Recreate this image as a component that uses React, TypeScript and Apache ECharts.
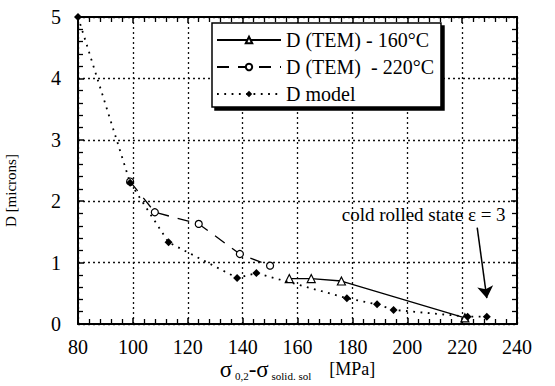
import React, { useEffect, useRef } from "react";
import * as echarts from "echarts";

// stress difference (MPa) and D (microns)
const tem160X = [157, 165, 176, 221];
const tem160Y = [0.74, 0.74, 0.7, 0.1];
const tem220X = [99, 108, 124, 139, 150];
const tem220Y = [2.32, 1.82, 1.63, 1.14, 0.95];
const modelX = [80, 99, 113, 138, 145, 178, 189, 195, 222, 229];
const modelY = [5, 2.3, 1.33, 0.75, 0.83, 0.42, 0.32, 0.23, 0.12, 0.12];
const seriesNames = ["D (TEM) - 160°C", "D (TEM)  - 220°C", "D model"];
const annotationText = "cold rolled state ε = 3";
const annotationAt = [206, 1.78];
const arrowFrom = [225.5, 1.57];
const arrowTo = [229, 0.42];

const SERIF = "Liberation Serif";

function pairs(xs: number[], ys: number[]) {
  return xs.map((x, i) => [x, ys[i]]);
}

export default function App() {
  const ref = useRef<HTMLDivElement>(null);
  useEffect(() => {
    if (!ref.current) return;
    const chart = echarts.init(ref.current, undefined, { renderer: "svg" });
    const tick = { show: true, inside: true, length: 6, lineStyle: { color: "#000", width: 1.5 } };
    const minor = { show: true, splitNumber: 5, length: 5, lineStyle: { color: "#000", width: 1.3 } };
    const frameLine = { show: true, onZero: false, lineStyle: { color: "#000", width: 2 } };
    const grid = { show: true, lineStyle: { color: "#111", width: 1.3, type: [2, 3] } };
    const xBase = { type: "value", min: 80, max: 240, interval: 20, axisLine: frameLine, axisTick: tick, minorTick: minor };
    const yBase = { type: "value", min: 0, max: 5, interval: 1, axisLine: frameLine, axisTick: tick, minorTick: minor };
    chart.setOption({
      animation: false,
      backgroundColor: "#fff",
      grid: { left: 78, right: 38, top: 17, bottom: 62, outerBoundsMode: "none", containLabel: false },
      legend: {
        orient: "vertical",
        left: 212,
        top: 23,
        padding: [7, 7, 3, 4],
        itemGap: 7,
        itemWidth: 64,
        itemHeight: 8,
        backgroundColor: "#fff",
        borderColor: "#000",
        borderWidth: 1.5,
        borderRadius: 0,
        shadowColor: "#000",
        shadowBlur: 0,
        shadowOffsetX: 3,
        shadowOffsetY: 3,
        textStyle: { color: "#000", fontSize: 20, fontFamily: SERIF },
        data: seriesNames,
      },
      xAxis: [
        {
          ...xBase,
          position: "bottom",
          splitLine: grid,
          axisLabel: { color: "#000", fontSize: 20, fontFamily: SERIF, margin: 13 },
          name: "{s|σ}{sub| 0,2}{s|-σ}{sub| solid. sol}{u|    [MPa]}",
          nameLocation: "middle",
          nameGap: 33,
          nameMoveOverlap: false,
          nameTextStyle: {
            verticalAlign: "top",
            rich: {
              s: { fontSize: 23, fontFamily: SERIF, color: "#000", lineHeight: 24, verticalAlign: "middle" },
              sub: { fontSize: 11, fontFamily: SERIF, color: "#000", lineHeight: 6, verticalAlign: "bottom" },
              u: { fontSize: 18, fontFamily: SERIF, color: "#000", lineHeight: 10, verticalAlign: "middle" },
            },
          },
        },
        {
          ...xBase,
          position: "top",
          splitLine: { show: false },
          axisLabel: { show: false },
        },
      ],
      yAxis: [
        {
          ...yBase,
          position: "left",
          splitLine: grid,
          axisLabel: { color: "#000", fontSize: 20, fontFamily: SERIF, margin: 17 },
          name: "D [microns]",
          nameLocation: "middle",
          nameGap: 60,
          nameTextStyle: { color: "#000", fontSize: 15, fontFamily: SERIF, padding: [0, 40, 0, 0] },
        },
        {
          ...yBase,
          position: "right",
          splitLine: { show: false },
          axisLabel: { show: false },
        },
      ],
      series: [
        {
          name: seriesNames[0],
          type: "line",
          data: pairs(tem160X, tem160Y),
          symbol: "triangle",
          symbolSize: 8,
          showSymbol: true,
          itemStyle: { color: "#fff", borderColor: "#000", borderWidth: 1.2 },
          lineStyle: { color: "#000", width: 1.3, type: "solid" },
          z: 3,
        },
        {
          name: seriesNames[1],
          type: "line",
          data: pairs(tem220X, tem220Y),
          symbol: "circle",
          symbolSize: 7,
          itemStyle: { color: "#fff", borderColor: "#000", borderWidth: 1.2 },
          lineStyle: { color: "#000", width: 1.3, type: [12, 9] },
          z: 3,
        },
        {
          name: seriesNames[2],
          type: "line",
          data: pairs(modelX, modelY),
          symbol: "diamond",
          symbolSize: 8,
          itemStyle: { color: "#000", borderColor: "#000", borderWidth: 0 },
          lineStyle: { color: "#000", width: 1.8, type: [1.8, 5.5] },
          z: 4,
          markPoint: {
            symbol: "circle",
            symbolSize: 1,
            itemStyle: { color: "rgba(0,0,0,0)" },
            label: {
              show: true,
              position: "inside",
              formatter: annotationText,
              color: "#000",
              fontSize: 19,
              fontFamily: SERIF,
            },
            data: [{ coord: annotationAt }],
          },
          markLine: {
            silent: true,
            symbol: ["none", "arrow"],
            symbolSize: 12,
            label: { show: false },
            lineStyle: { color: "#000", width: 1.5, type: "solid" },
            data: [[{ coord: arrowFrom }, { coord: arrowTo }]],
          },
        },
      ],
    });
    return () => chart.dispose();
  }, []);
  return (
    <div
      ref={ref}
      style={{ position: "fixed", left: 0, top: 0, width: 555, height: 386, background: "#fff" }}
    />
  );
}
